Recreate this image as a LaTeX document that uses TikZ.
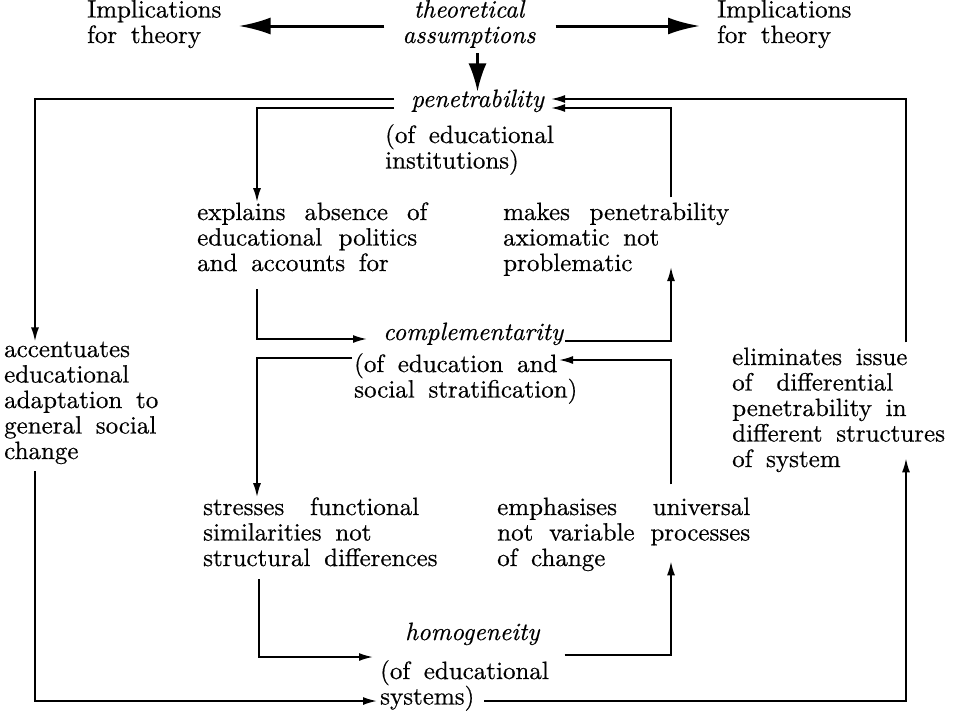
\documentclass[tikz,border=0pt]{standalone}
\usepackage{fontspec}
\setmainfont{lmroman10-regular.otf}[ItalicFont=lmroman10-italic.otf,BoldFont=lmroman10-bold.otf,
  UprightFeatures={FakeBold=0.5},ItalicFeatures={FakeBold=0.5}]
\usetikzlibrary{arrows.meta,calc}
\newcommand{\jl}[2]{\makebox[#1pt][s]{#2}}
\newcommand{\wsp}{\spaceskip=0.55em plus 0.3em minus 0.1em\relax}
\tikzset{
  txt/.style={inner sep=0pt, anchor=base west, align=left,
    font=\fontsize{25}{25.5}\selectfont\wsp},
  txti/.style={txt, font=\fontsize{25}{25.5}\selectfont\itshape},
  ln/.style={line width=1.8pt},
  arr/.style={ln, -{Latex[length=14pt,width=8pt]}},
  big/.style={line width=3pt, -{Latex[length=32pt,width=17pt]}},
  down/.style={line width=2.4pt, -{Latex[length=28pt,width=18pt]}}
}
\begin{document}
\begin{tikzpicture}[x=1pt,y=-1pt]
\useasboundingbox (0,0) rectangle (971,712);
\fill[white] (0,0) rectangle (971,712);
% nodes (anchor = baseline of last line)
\node[txt] (implL) at (87,43) {Implications\\for theory};
\node[txt] (implR) at (717,43) {Implications\\for theory};
\node[txti, anchor=base, align=center] (assum) at (469,43) {theoretical\\assumptions};
\node[txti] (pen) at (411,107) {penetrability};
\node[txt] (penS) at (385,168.5) {(of educational\\institutions)};
\node[txt] (expl) at (197,271) {\jl{230}{explains absence of}\\\jl{220}{educational politics}\\and accounts for};
\node[txt] (makes) at (503,271) {\jl{226}{makes penetrability}\\axiomatic not\\problematic};
\node[txti] (comp) at (383,340) {complementarity};
\node[txt] (compS) at (354,397.5) {(of education and\\social stratification)};
\node[txt] (accent) at (4,459) {accentuates\\educational\\adaptation to\\general social\\change};
\node[txt] (elim) at (732,467) {eliminates issue\\\jl{161}{of differential}\\penetrability in\\different structures\\of system};
\node[txt] (stress) at (203,566) {\jl{216}{stresses functional}\\similarities not\\structural differences};
\node[txt] (emph) at (497,566) {\jl{253}{emphasises universal}\\\jl{253}{not variable processes}\\of change};
\node[txti] (homo) at (405,640) {homogeneity};
\node[txt] (homoS) at (380,704.5) {(of educational\\systems)};
% top arrows
\draw[big] ($(assum.west|-0,26)+(-18,0)$) -- ($(implL.east|-0,26)+(17,0)$);
\draw[big] ($(assum.east|-0,26)+(20,0)$) -- ($(implR.west|-0,26)+(-17,0)$);
\draw[down] ($(pen.north|-assum.south)+(0,5)$) -- ($(pen.north)+(0,2)$);
% penetrability
\draw[arr] ($(pen.west|-0,99)+(-17,0)$) -| (35,0 |- accent.north);
\draw[arr] ($(pen.west|-0,108)+(-17,0)$) -| (257,0 |- expl.north);
\draw[arr] ($(906,0 |- elim.north)+(0,-5)$) |- ($(pen.east|-0,99)+(7,0)$);
\draw[arr] ($(671,0 |- makes.north)+(0,-5)$) |- ($(pen.east|-0,108)+(7,0)$);
% complementarity
\draw[arr] ($(257,0 |- expl.south)+(0,18)$) |- ($(comp.west|-0,339)+(-16,0)$);
\draw[arr] ($(comp.east|-0,341)+(2,0)$) -| ($(671,0 |- makes.south)+(0,-9)$);
\draw[arr] ($(compS.west|-0,358)+(-2,0)$) -| (257,0 |- stress.north);
\draw[arr] ($(671,0 |- emph.north)+(0,-13)$) |- ($(compS.west|-0,360)+(205,0)$);
% homogeneity
\draw[arr] ($(259,0 |- stress.south)+(0,13)$) |- ($(homoS.west|-0,657)+(-7,0)$);
\draw[arr] ($(homo.east|-0,655)+(25,0)$) -| ($(671,0 |- emph.south)+(0,-10)$);
\draw[arr] ($(35,0 |- accent.south)+(0,7)$) |- ($(homoS.west|-0,701)+(-3,0)$);
\draw[arr] ($(homoS.west|-0,701)+(104,0)$) -| ($(906,0 |- elim.south)+(0,-14)$);
\end{tikzpicture}
\end{document}
